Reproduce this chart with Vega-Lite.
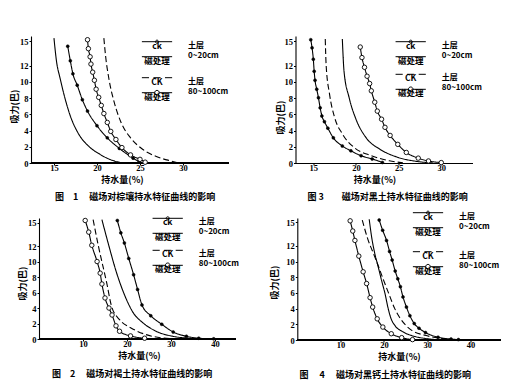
{
"$schema":"https://vega.github.io/schema/vega-lite/v6.json",
"background":"white",
"padding":{"left":10,"top":35,"right":0,"bottom":0},
"bounds":"flush",
"columns":2,
"spacing":{"row":55,"column":59.5},
"config":{
 "view":{"stroke":null},
 "font":"Noto Sans CJK SC",
 "axis":{"domainColor":"black","domainWidth":1.1,"tickColor":"black","tickSize":2,"tickWidth":1,"labelFont":"Liberation Serif","labelFontSize":8.5,"labelFontWeight":"bold","labelColor":"black","labelPadding":1,"grid":false,"titleFont":"Noto Sans CJK SC","titleFontSize":9,"titleFontWeight":"bold","titleColor":"black","titleBaseline":"middle","titleAlign":"center","labelFlush":false,"labelOverlap":false},
 "axisX":{"labelBaseline":"middle","labelPadding":2},
 "title":{"font":"Noto Sans CJK SC","fontSize":9,"fontWeight":"bold","color":"black"},
 "legend":{"labelFont":"Noto Sans CJK SC","labelFontSize":8.5,"labelFontWeight":"bold","labelColor":"black","labelAlign":"center","labelBaseline":"top","labelOffset":-6,"symbolSize":121,"symbolStrokeWidth":1,"symbolStrokeColor":"black","symbolOpacity":1,"titleFont":"Noto Sans CJK SC","titleFontSize":8,"titleFontWeight":"bold","titleColor":"black","titleOrient":"right","titleAnchor":"middle","titleAlign":"left","titleLineHeight":10,"titlePadding":14,"rowPadding":0,"padding":0}
},
"data":{"values":[
{"p":1,"k":"磁处理 (0~20cm)","x":15.0,"y":15.4},{"p":1,"k":"磁处理 (0~20cm)","x":15.3,"y":12.5},{"p":1,"k":"磁处理 (0~20cm)","x":15.7,"y":10.5},{"p":1,"k":"磁处理 (0~20cm)","x":16.2,"y":8.3},{"p":1,"k":"磁处理 (0~20cm)","x":16.9,"y":5.8},{"p":1,"k":"磁处理 (0~20cm)","x":17.8,"y":3.7},{"p":1,"k":"磁处理 (0~20cm)","x":19.0,"y":2.1},{"p":1,"k":"磁处理 (0~20cm)","x":20.3,"y":1.1},{"p":1,"k":"磁处理 (0~20cm)","x":21.6,"y":0.4},{"p":1,"k":"磁处理 (0~20cm)","x":22.8,"y":0.05},
{"p":1,"k":"ck (0~20cm)","x":16.6,"y":14.4},{"p":1,"k":"ck (0~20cm)","x":16.9,"y":12.6},{"p":1,"k":"ck (0~20cm)","x":17.2,"y":11.0},{"p":1,"k":"ck (0~20cm)","x":17.7,"y":9.6},{"p":1,"k":"ck (0~20cm)","x":18.3,"y":7.8},{"p":1,"k":"ck (0~20cm)","x":18.9,"y":6.4},{"p":1,"k":"ck (0~20cm)","x":20.0,"y":4.6},{"p":1,"k":"ck (0~20cm)","x":21.2,"y":3.1},{"p":1,"k":"ck (0~20cm)","x":22.6,"y":1.8},{"p":1,"k":"ck (0~20cm)","x":24.2,"y":0.6},{"p":1,"k":"ck (0~20cm)","x":24.9,"y":0.15},
{"p":1,"k":"磁处理 (80~100cm)","x":18.9,"y":15.2},{"p":1,"k":"磁处理 (80~100cm)","x":19.0,"y":14.1},{"p":1,"k":"磁处理 (80~100cm)","x":19.2,"y":13.1},{"p":1,"k":"磁处理 (80~100cm)","x":19.3,"y":12.2},{"p":1,"k":"磁处理 (80~100cm)","x":19.5,"y":11.2},{"p":1,"k":"磁处理 (80~100cm)","x":19.7,"y":10.2},{"p":1,"k":"磁处理 (80~100cm)","x":19.9,"y":9.1},{"p":1,"k":"磁处理 (80~100cm)","x":20.2,"y":8.1},{"p":1,"k":"磁处理 (80~100cm)","x":20.5,"y":7.1},{"p":1,"k":"磁处理 (80~100cm)","x":20.8,"y":6.1},{"p":1,"k":"磁处理 (80~100cm)","x":21.2,"y":5.0},{"p":1,"k":"磁处理 (80~100cm)","x":21.6,"y":3.9},{"p":1,"k":"磁处理 (80~100cm)","x":22.2,"y":2.9},{"p":1,"k":"磁处理 (80~100cm)","x":22.9,"y":1.9},{"p":1,"k":"磁处理 (80~100cm)","x":23.9,"y":1.0},{"p":1,"k":"磁处理 (80~100cm)","x":25.0,"y":0.45},{"p":1,"k":"磁处理 (80~100cm)","x":25.6,"y":0.1},
{"p":1,"k":"CK (80~100cm)","x":20.8,"y":15.4},{"p":1,"k":"CK (80~100cm)","x":21.0,"y":13.2},{"p":1,"k":"CK (80~100cm)","x":21.4,"y":10.3},{"p":1,"k":"CK (80~100cm)","x":22.0,"y":7.5},{"p":1,"k":"CK (80~100cm)","x":22.8,"y":5.0},{"p":1,"k":"CK (80~100cm)","x":23.9,"y":3.1},{"p":1,"k":"CK (80~100cm)","x":25.3,"y":1.7},{"p":1,"k":"CK (80~100cm)","x":26.9,"y":0.8},{"p":1,"k":"CK (80~100cm)","x":28.4,"y":0.3},{"p":1,"k":"CK (80~100cm)","x":29.4,"y":0.02},
{"p":3,"k":"ck (0~20cm)","x":14.7,"y":15.2},{"p":3,"k":"ck (0~20cm)","x":14.85,"y":14.2},{"p":3,"k":"ck (0~20cm)","x":15.0,"y":12.8},{"p":3,"k":"ck (0~20cm)","x":15.1,"y":11.3},{"p":3,"k":"ck (0~20cm)","x":15.2,"y":10.2},{"p":3,"k":"ck (0~20cm)","x":15.4,"y":9.1},{"p":3,"k":"ck (0~20cm)","x":15.6,"y":8.05},{"p":3,"k":"ck (0~20cm)","x":15.8,"y":6.8},{"p":3,"k":"ck (0~20cm)","x":16.0,"y":5.8},{"p":3,"k":"ck (0~20cm)","x":16.3,"y":5.1},{"p":3,"k":"ck (0~20cm)","x":16.7,"y":4.3},{"p":3,"k":"ck (0~20cm)","x":17.35,"y":3.1},{"p":3,"k":"ck (0~20cm)","x":18.4,"y":2.1},{"p":3,"k":"ck (0~20cm)","x":19.4,"y":1.5},{"p":3,"k":"ck (0~20cm)","x":20.6,"y":0.9},{"p":3,"k":"ck (0~20cm)","x":21.9,"y":0.5},{"p":3,"k":"ck (0~20cm)","x":23.1,"y":0.07},
{"p":3,"k":"CK (80~100cm)","x":16.4,"y":15.3},{"p":3,"k":"CK (80~100cm)","x":16.5,"y":12.1},{"p":3,"k":"CK (80~100cm)","x":16.9,"y":8.5},{"p":3,"k":"CK (80~100cm)","x":17.5,"y":5.6},{"p":3,"k":"CK (80~100cm)","x":18.4,"y":3.6},{"p":3,"k":"CK (80~100cm)","x":19.8,"y":1.9},{"p":3,"k":"CK (80~100cm)","x":21.8,"y":0.9},{"p":3,"k":"CK (80~100cm)","x":23.9,"y":0.28},{"p":3,"k":"CK (80~100cm)","x":25.5,"y":0.02},
{"p":3,"k":"磁处理 (0~20cm)","x":18.4,"y":15.3},{"p":3,"k":"磁处理 (0~20cm)","x":18.6,"y":11.3},{"p":3,"k":"磁处理 (0~20cm)","x":19.2,"y":8.05},{"p":3,"k":"磁处理 (0~20cm)","x":20.0,"y":5.4},{"p":3,"k":"磁处理 (0~20cm)","x":21.2,"y":3.1},{"p":3,"k":"磁处理 (0~20cm)","x":22.8,"y":1.7},{"p":3,"k":"磁处理 (0~20cm)","x":24.7,"y":0.77},{"p":3,"k":"磁处理 (0~20cm)","x":27.1,"y":0.2},{"p":3,"k":"磁处理 (0~20cm)","x":29.0,"y":0.02},
{"p":3,"k":"磁处理 (80~100cm)","x":20.5,"y":14.3},{"p":3,"k":"磁处理 (80~100cm)","x":20.7,"y":13.0},{"p":3,"k":"磁处理 (80~100cm)","x":21.0,"y":11.8},{"p":3,"k":"磁处理 (80~100cm)","x":21.3,"y":10.7},{"p":3,"k":"磁处理 (80~100cm)","x":21.6,"y":9.8},{"p":3,"k":"磁处理 (80~100cm)","x":21.8,"y":8.9},{"p":3,"k":"磁处理 (80~100cm)","x":22.2,"y":7.5},{"p":3,"k":"磁处理 (80~100cm)","x":22.5,"y":6.4},{"p":3,"k":"磁处理 (80~100cm)","x":23.0,"y":5.4},{"p":3,"k":"磁处理 (80~100cm)","x":23.4,"y":4.4},{"p":3,"k":"磁处理 (80~100cm)","x":24.0,"y":3.4},{"p":3,"k":"磁处理 (80~100cm)","x":24.9,"y":2.3},{"p":3,"k":"磁处理 (80~100cm)","x":25.9,"y":1.3},{"p":3,"k":"磁处理 (80~100cm)","x":27.3,"y":0.6},{"p":3,"k":"磁处理 (80~100cm)","x":28.5,"y":0.25},{"p":3,"k":"磁处理 (80~100cm)","x":30.0,"y":0.05},
{"p":2,"k":"磁处理 (80~100cm)","x":10.5,"y":15.3},{"p":2,"k":"磁处理 (80~100cm)","x":11.3,"y":13.8},{"p":2,"k":"磁处理 (80~100cm)","x":12.0,"y":12.1},{"p":2,"k":"磁处理 (80~100cm)","x":13.2,"y":10.0},{"p":2,"k":"磁处理 (80~100cm)","x":13.9,"y":8.5},{"p":2,"k":"磁处理 (80~100cm)","x":14.3,"y":7.1},{"p":2,"k":"磁处理 (80~100cm)","x":15.0,"y":5.3},{"p":2,"k":"磁处理 (80~100cm)","x":15.9,"y":4.0},{"p":2,"k":"磁处理 (80~100cm)","x":16.6,"y":3.1},{"p":2,"k":"磁处理 (80~100cm)","x":17.5,"y":1.7},{"p":2,"k":"磁处理 (80~100cm)","x":18.3,"y":1.0},{"p":2,"k":"磁处理 (80~100cm)","x":20.8,"y":0.4},{"p":2,"k":"磁处理 (80~100cm)","x":24.0,"y":0.1},
{"p":2,"k":"CK (80~100cm)","x":12.3,"y":15.4},{"p":2,"k":"CK (80~100cm)","x":13.5,"y":12.0},{"p":2,"k":"CK (80~100cm)","x":15.4,"y":7.2},{"p":2,"k":"CK (80~100cm)","x":16.5,"y":4.2},{"p":2,"k":"CK (80~100cm)","x":18.3,"y":2.5},{"p":2,"k":"CK (80~100cm)","x":21.0,"y":1.4},{"p":2,"k":"CK (80~100cm)","x":24.3,"y":0.57},{"p":2,"k":"CK (80~100cm)","x":28.1,"y":0.13},{"p":2,"k":"CK (80~100cm)","x":31.0,"y":0.01},
{"p":2,"k":"磁处理 (0~20cm)","x":14.3,"y":15.4},{"p":2,"k":"磁处理 (0~20cm)","x":15.8,"y":12.2},{"p":2,"k":"磁处理 (0~20cm)","x":17.6,"y":8.6},{"p":2,"k":"磁处理 (0~20cm)","x":19.5,"y":5.6},{"p":2,"k":"磁处理 (0~20cm)","x":21.4,"y":3.4},{"p":2,"k":"磁处理 (0~20cm)","x":23.6,"y":2.1},{"p":2,"k":"磁处理 (0~20cm)","x":26.6,"y":1.0},{"p":2,"k":"磁处理 (0~20cm)","x":30.4,"y":0.35},{"p":2,"k":"磁处理 (0~20cm)","x":34.1,"y":0.1},{"p":2,"k":"磁处理 (0~20cm)","x":37.0,"y":0.01},
{"p":2,"k":"ck (0~20cm)","x":17.8,"y":15.3},{"p":2,"k":"ck (0~20cm)","x":18.6,"y":13.7},{"p":2,"k":"ck (0~20cm)","x":19.4,"y":12.4},{"p":2,"k":"ck (0~20cm)","x":20.4,"y":10.4},{"p":2,"k":"ck (0~20cm)","x":21.5,"y":8.3},{"p":2,"k":"ck (0~20cm)","x":22.4,"y":6.4},{"p":2,"k":"ck (0~20cm)","x":23.4,"y":4.4},{"p":2,"k":"ck (0~20cm)","x":25.4,"y":3.0},{"p":2,"k":"ck (0~20cm)","x":27.9,"y":1.9},{"p":2,"k":"ck (0~20cm)","x":30.5,"y":0.9},{"p":2,"k":"ck (0~20cm)","x":33.5,"y":0.35},{"p":2,"k":"ck (0~20cm)","x":36.3,"y":0.1},{"p":2,"k":"ck (0~20cm)","x":39.7,"y":0.02},
{"p":4,"k":"磁处理 (80~100cm)","x":12.2,"y":15.2},{"p":4,"k":"磁处理 (80~100cm)","x":12.8,"y":13.9},{"p":4,"k":"磁处理 (80~100cm)","x":13.3,"y":12.7},{"p":4,"k":"磁处理 (80~100cm)","x":14.2,"y":10.7},{"p":4,"k":"磁处理 (80~100cm)","x":15.2,"y":8.7},{"p":4,"k":"磁处理 (80~100cm)","x":16.0,"y":7.2},{"p":4,"k":"磁处理 (80~100cm)","x":16.8,"y":5.4},{"p":4,"k":"磁处理 (80~100cm)","x":17.4,"y":4.2},{"p":4,"k":"磁处理 (80~100cm)","x":18.45,"y":2.7},{"p":4,"k":"磁处理 (80~100cm)","x":19.75,"y":1.65},{"p":4,"k":"磁处理 (80~100cm)","x":21.7,"y":0.8},{"p":4,"k":"磁处理 (80~100cm)","x":24.1,"y":0.3},{"p":4,"k":"磁处理 (80~100cm)","x":26.6,"y":0.05},
{"p":4,"k":"磁处理 (0~20cm)","x":16.6,"y":15.4},{"p":4,"k":"磁处理 (0~20cm)","x":17.2,"y":13.0},{"p":4,"k":"磁处理 (0~20cm)","x":17.9,"y":11.0},{"p":4,"k":"磁处理 (0~20cm)","x":18.6,"y":9.5},{"p":4,"k":"磁处理 (0~20cm)","x":19.5,"y":7.5},{"p":4,"k":"磁处理 (0~20cm)","x":20.3,"y":5.8},{"p":4,"k":"磁处理 (0~20cm)","x":20.9,"y":4.2},{"p":4,"k":"磁处理 (0~20cm)","x":21.6,"y":2.8},{"p":4,"k":"磁处理 (0~20cm)","x":22.6,"y":1.8},{"p":4,"k":"磁处理 (0~20cm)","x":24.2,"y":1.1},{"p":4,"k":"磁处理 (0~20cm)","x":26.5,"y":0.55},{"p":4,"k":"磁处理 (0~20cm)","x":29.5,"y":0.2},{"p":4,"k":"磁处理 (0~20cm)","x":33.0,"y":0.03},
{"p":4,"k":"CK (80~100cm)","x":15.0,"y":15.3},{"p":4,"k":"CK (80~100cm)","x":16.2,"y":13.0},{"p":4,"k":"CK (80~100cm)","x":17.6,"y":11.0},{"p":4,"k":"CK (80~100cm)","x":18.6,"y":9.6},{"p":4,"k":"CK (80~100cm)","x":19.8,"y":7.8},{"p":4,"k":"CK (80~100cm)","x":21.2,"y":5.8},{"p":4,"k":"CK (80~100cm)","x":22.5,"y":4.0},{"p":4,"k":"CK (80~100cm)","x":23.6,"y":2.9},{"p":4,"k":"CK (80~100cm)","x":25.0,"y":1.9},{"p":4,"k":"CK (80~100cm)","x":26.5,"y":1.2},{"p":4,"k":"CK (80~100cm)","x":29.5,"y":0.6},{"p":4,"k":"CK (80~100cm)","x":34.0,"y":0.15},{"p":4,"k":"CK (80~100cm)","x":37.0,"y":0.03},
{"p":4,"k":"ck (0~20cm)","x":18.9,"y":15.3},{"p":4,"k":"ck (0~20cm)","x":19.7,"y":14.0},{"p":4,"k":"ck (0~20cm)","x":20.6,"y":12.7},{"p":4,"k":"ck (0~20cm)","x":21.3,"y":11.3},{"p":4,"k":"ck (0~20cm)","x":21.9,"y":10.2},{"p":4,"k":"ck (0~20cm)","x":22.6,"y":8.8},{"p":4,"k":"ck (0~20cm)","x":23.2,"y":7.8},{"p":4,"k":"ck (0~20cm)","x":23.8,"y":6.8},{"p":4,"k":"ck (0~20cm)","x":24.4,"y":5.5},{"p":4,"k":"ck (0~20cm)","x":25.2,"y":4.2},{"p":4,"k":"ck (0~20cm)","x":26.0,"y":3.1},{"p":4,"k":"ck (0~20cm)","x":27.0,"y":2.1},{"p":4,"k":"ck (0~20cm)","x":28.1,"y":1.5},{"p":4,"k":"ck (0~20cm)","x":29.6,"y":0.95},{"p":4,"k":"ck (0~20cm)","x":32.5,"y":0.35},{"p":4,"k":"ck (0~20cm)","x":35.5,"y":0.12},{"p":4,"k":"ck (0~20cm)","x":37.2,"y":0.05}
]},
"resolve":{"scale":{"shape":"independent","strokeDash":"independent"},"legend":{"shape":"independent"}},
"concat":[
 {"width":205,"height":127,
  "transform":[{"filter":"datum.p == 1"}],
  "title":{"text":"图　1　 磁场对棕壤持水特征曲线的影响","orient":"bottom","anchor":"start","frame":"group","dx":24,"offset":9},
  "encoding":{
   "x":{"field":"x","type":"quantitative","scale":{"domain":[12.33,36.16],"nice":false,"zero":false},"axis":{"values":[15,20,25,30],"domain":false,"title":"持水量(%)","titleX":91,"titleY":16}},
   "y":{"field":"y","type":"quantitative","scale":{"domain":[0,15.66],"nice":false},"axis":{"values":[0,2,4,6,8,10,12,15],"title":"吸力(巴)","titleX":-17,"titleY":70}}
  },
  "layer":[
   {"mark":{"type":"rule","stroke":"black","strokeWidth":1.1},"encoding":{"x":{"datum":12.33},"x2":{"datum":35.35},"y":{"datum":0}}},
   {"mark":{"type":"line","interpolate":"monotone","stroke":"black","strokeWidth":1.1},"encoding":{"strokeDash":{"field":"k","type":"nominal","scale":{"domain":["ck (0~20cm)","磁处理 (0~20cm)","CK (80~100cm)","磁处理 (80~100cm)"],"range":[[1,0],[1,0],[6,3],[1,0]]},"legend":null}}},
   {"transform":[{"filter":"datum.k == 'ck (0~20cm)'"}],"mark":{"type":"point","shape":"circle","filled":true,"fill":"black","stroke":"black","strokeWidth":0.5,"size":9,"opacity":1}},
   {"transform":[{"filter":"datum.k == '磁处理 (80~100cm)'"}],"mark":{"type":"point","shape":"circle","filled":true,"fill":"white","stroke":"black","strokeWidth":0.9,"size":20,"opacity":1}},
   {"transform":[{"filter":"datum.k == 'ck (0~20cm)' || datum.k == '磁处理 (0~20cm)'"}],"mark":{"type":"point","opacity":0,"stroke":"black"},"encoding":{"shape":{"field":"k","type":"nominal","scale":{"domain":["ck (0~20cm)","磁处理 (0~20cm)"],"range":["M-2.75,0L2.75,0M-0.28,0A0.28,0.28,0,1,1,0.28,0A0.28,0.28,0,1,1,-0.28,0Z","M-2.75,0L2.75,0"]},"legend":{"orient":"none","legendX":120,"legendY":-0.3,"title":["土层","0~20cm"],"symbolFillColor":"black","labelExpr":"split(datum.label, ' (')[0]"}}}},
   {"transform":[{"filter":"datum.k == 'CK (80~100cm)' || datum.k == '磁处理 (80~100cm)'"}],"mark":{"type":"point","opacity":0,"stroke":"black"},"encoding":{"shape":{"field":"k","type":"nominal","scale":{"domain":["CK (80~100cm)","磁处理 (80~100cm)"],"range":["M-2.75,0L-1.45,0M-0.65,0L0.65,0M1.45,0L2.75,0","M-2.75,0L-0.42,0M0.42,0L2.75,0M-0.42,0A0.42,0.42,0,1,1,0.42,0A0.42,0.42,0,1,1,-0.42,0Z"]},"legend":{"orient":"none","legendX":120,"legendY":35.7,"title":["土层","80~100cm"],"symbolFillColor":"white","labelExpr":"split(datum.label, ' (')[0]"}}}}
  ],
  "resolve":{"scale":{"shape":"independent","strokeDash":"independent"},"legend":{"shape":"independent"}}
 },
 {"width":177,"height":127,
  "transform":[{"filter":"datum.p == 3"}],
  "title":{"text":"图 3　　磁场对黑土持水特征曲线的影响","orient":"bottom","anchor":"start","frame":"group","dx":12,"offset":9},
  "encoding":{
   "x":{"field":"x","type":"quantitative","scale":{"domain":[12.91,33.66],"nice":false,"zero":false},"axis":{"values":[15,20,25,30],"title":"持水量(%)","titleX":79,"titleY":16}},
   "y":{"field":"y","type":"quantitative","scale":{"domain":[0,15.66],"nice":false},"axis":{"values":[0,2,4,6,8,10,12,15],"title":"吸力(巴)","titleX":-15,"titleY":81}}
  },
  "layer":[
   {"mark":{"type":"line","interpolate":"monotone","stroke":"black","strokeWidth":1.1},"encoding":{"strokeDash":{"field":"k","type":"nominal","scale":{"domain":["ck (0~20cm)","磁处理 (0~20cm)","CK (80~100cm)","磁处理 (80~100cm)"],"range":[[1,0],[1,0],[6,3],[1,0]]},"legend":null}}},
   {"transform":[{"filter":"datum.k == 'ck (0~20cm)'"}],"mark":{"type":"point","shape":"circle","filled":true,"fill":"black","stroke":"black","strokeWidth":0.5,"size":9,"opacity":1}},
   {"transform":[{"filter":"datum.k == '磁处理 (80~100cm)'"}],"mark":{"type":"point","shape":"circle","filled":true,"fill":"white","stroke":"black","strokeWidth":0.9,"size":20,"opacity":1}},
   {"transform":[{"filter":"datum.k == 'ck (0~20cm)' || datum.k == '磁处理 (0~20cm)'"}],"mark":{"type":"point","opacity":0,"stroke":"black"},"encoding":{"shape":{"field":"k","type":"nominal","scale":{"domain":["ck (0~20cm)","磁处理 (0~20cm)"],"range":["M-2.75,0L2.75,0M-0.28,0A0.28,0.28,0,1,1,0.28,0A0.28,0.28,0,1,1,-0.28,0Z","M-2.75,0L2.75,0"]},"legend":{"orient":"none","legendX":109.2,"legendY":-0.3,"title":["土层","0~20cm"],"symbolFillColor":"black","labelExpr":"split(datum.label, ' (')[0]"}}}},
   {"transform":[{"filter":"datum.k == 'CK (80~100cm)' || datum.k == '磁处理 (80~100cm)'"}],"mark":{"type":"point","opacity":0,"stroke":"black"},"encoding":{"shape":{"field":"k","type":"nominal","scale":{"domain":["CK (80~100cm)","磁处理 (80~100cm)"],"range":["M-2.75,0L-1.45,0M-0.65,0L0.65,0M1.45,0L2.75,0","M-2.75,0L-0.42,0M0.42,0L2.75,0M-0.42,0A0.42,0.42,0,1,1,0.42,0A0.42,0.42,0,1,1,-0.42,0Z"]},"legend":{"orient":"none","legendX":109.2,"legendY":32.3,"title":["土层","80~100cm"],"symbolFillColor":"white","labelExpr":"split(datum.label, ' (')[0]"}}}}
  ],
  "resolve":{"scale":{"shape":"independent","strokeDash":"independent"},"legend":{"shape":"independent"}}
 },
 {"width":205,"height":121,
  "transform":[{"filter":"datum.p == 2"}],
  "title":{"text":"图　2　 磁场对褐土持水特征曲线的影响","orient":"bottom","anchor":"start","frame":"group","dx":21,"offset":9},
  "encoding":{
   "x":{"field":"x","type":"quantitative","scale":{"domain":[-1.818,44.77],"nice":false,"zero":false},"axis":{"values":[10,20,30,40],"domain":false,"title":"持水量(%)","titleX":108,"titleY":16.5}},
   "y":{"field":"y","type":"quantitative","scale":{"domain":[0,15.62],"nice":false},"axis":{"values":[0,2,4,6,8,10,12,15],"offset":-8,"title":"吸力(巴)","titleX":-17,"titleY":65}}
  },
  "layer":[
   {"mark":{"type":"rule","stroke":"black","strokeWidth":1.1},"encoding":{"x":{"datum":0},"x2":{"datum":44.77},"y":{"datum":0}}},
   {"mark":{"type":"line","interpolate":"monotone","stroke":"black","strokeWidth":1.1},"encoding":{"strokeDash":{"field":"k","type":"nominal","scale":{"domain":["ck (0~20cm)","磁处理 (0~20cm)","CK (80~100cm)","磁处理 (80~100cm)"],"range":[[1,0],[1,0],[6,3],[1,0]]},"legend":null}}},
   {"transform":[{"filter":"datum.k == 'ck (0~20cm)'"}],"mark":{"type":"point","shape":"circle","filled":true,"fill":"black","stroke":"black","strokeWidth":0.5,"size":9,"opacity":1}},
   {"transform":[{"filter":"datum.k == '磁处理 (80~100cm)'"}],"mark":{"type":"point","shape":"circle","filled":true,"fill":"white","stroke":"black","strokeWidth":0.9,"size":20,"opacity":1}},
   {"transform":[{"filter":"datum.k == 'ck (0~20cm)' || datum.k == '磁处理 (0~20cm)'"}],"mark":{"type":"point","opacity":0,"stroke":"black"},"encoding":{"shape":{"field":"k","type":"nominal","scale":{"domain":["ck (0~20cm)","磁处理 (0~20cm)"],"range":["M-2.75,0L2.75,0M-0.28,0A0.28,0.28,0,1,1,0.28,0A0.28,0.28,0,1,1,-0.28,0Z","M-2.75,0L2.75,0"]},"legend":{"orient":"none","legendX":130.7,"legendY":-5.7,"title":["土层","0~20cm"],"symbolFillColor":"black","labelExpr":"split(datum.label, ' (')[0]"}}}},
   {"transform":[{"filter":"datum.k == 'CK (80~100cm)' || datum.k == '磁处理 (80~100cm)'"}],"mark":{"type":"point","opacity":0,"stroke":"black"},"encoding":{"shape":{"field":"k","type":"nominal","scale":{"domain":["CK (80~100cm)","磁处理 (80~100cm)"],"range":["M-2.75,0L-1.45,0M-0.65,0L0.65,0M1.45,0L2.75,0","M-2.75,0L-0.42,0M0.42,0L2.75,0M-0.42,0A0.42,0.42,0,1,1,0.42,0A0.42,0.42,0,1,1,-0.42,0Z"]},"legend":{"orient":"none","legendX":130.7,"legendY":26.3,"title":["土层","80~100cm"],"symbolFillColor":"white","labelExpr":"split(datum.label, ' (')[0]"}}}}
  ],
  "resolve":{"scale":{"shape":"independent","strokeDash":"independent"},"legend":{"shape":"independent"}}
 },
 {"width":205,"height":122,
  "transform":[{"filter":"datum.p == 4"}],
  "title":{"text":"图　 4　 磁场对黑钙土持水特征曲线的影响","orient":"bottom","anchor":"start","frame":"group","dx":4,"offset":9},
  "encoding":{
   "x":{"field":"x","type":"quantitative","scale":{"domain":[-0.42,46.92],"nice":false,"zero":false},"axis":{"values":[10,20,30,40],"domain":false,"title":"持水量(%)","titleX":103.5,"titleY":16.5}},
   "y":{"field":"y","type":"quantitative","scale":{"domain":[0,15.56],"nice":false},"axis":{"values":[0,2,4,6,8,10,12,15],"offset":-1.8,"title":"吸力(巴)","titleX":-23,"titleY":64}}
  },
  "layer":[
   {"mark":{"type":"rule","stroke":"black","strokeWidth":1.1},"encoding":{"x":{"datum":0},"x2":{"datum":46.92},"y":{"datum":0}}},
   {"mark":{"type":"line","interpolate":"monotone","stroke":"black","strokeWidth":1.1},"encoding":{"strokeDash":{"field":"k","type":"nominal","scale":{"domain":["ck (0~20cm)","磁处理 (0~20cm)","CK (80~100cm)","磁处理 (80~100cm)"],"range":[[1,0],[1,0],[6,3],[1,0]]},"legend":null}}},
   {"transform":[{"filter":"datum.k == 'ck (0~20cm)'"}],"mark":{"type":"point","shape":"circle","filled":true,"fill":"black","stroke":"black","strokeWidth":0.5,"size":9,"opacity":1}},
   {"transform":[{"filter":"datum.k == '磁处理 (80~100cm)'"}],"mark":{"type":"point","shape":"circle","filled":true,"fill":"white","stroke":"black","strokeWidth":0.9,"size":20,"opacity":1}},
   {"transform":[{"filter":"datum.k == 'ck (0~20cm)' || datum.k == '磁处理 (0~20cm)'"}],"mark":{"type":"point","opacity":0,"stroke":"black"},"encoding":{"shape":{"field":"k","type":"nominal","scale":{"domain":["ck (0~20cm)","磁处理 (0~20cm)"],"range":["M-2.75,0L2.75,0M-0.28,0A0.28,0.28,0,1,1,0.28,0A0.28,0.28,0,1,1,-0.28,0Z","M-2.75,0L2.75,0"]},"legend":{"orient":"none","legendX":126.5,"legendY":-11.3,"title":["土层","0~20cm"],"symbolFillColor":"black","labelExpr":"split(datum.label, ' (')[0]"}}}},
   {"transform":[{"filter":"datum.k == 'CK (80~100cm)' || datum.k == '磁处理 (80~100cm)'"}],"mark":{"type":"point","opacity":0,"stroke":"black"},"encoding":{"shape":{"field":"k","type":"nominal","scale":{"domain":["CK (80~100cm)","磁处理 (80~100cm)"],"range":["M-2.75,0L-1.45,0M-0.65,0L0.65,0M1.45,0L2.75,0","M-2.75,0L-0.42,0M0.42,0L2.75,0M-0.42,0A0.42,0.42,0,1,1,0.42,0A0.42,0.42,0,1,1,-0.42,0Z"]},"legend":{"orient":"none","legendX":126.5,"legendY":27.7,"title":["土层","80~100cm"],"symbolFillColor":"white","labelExpr":"split(datum.label, ' (')[0]"}}}}
  ],
  "resolve":{"scale":{"shape":"independent","strokeDash":"independent"},"legend":{"shape":"independent"}}
 }
]
}
